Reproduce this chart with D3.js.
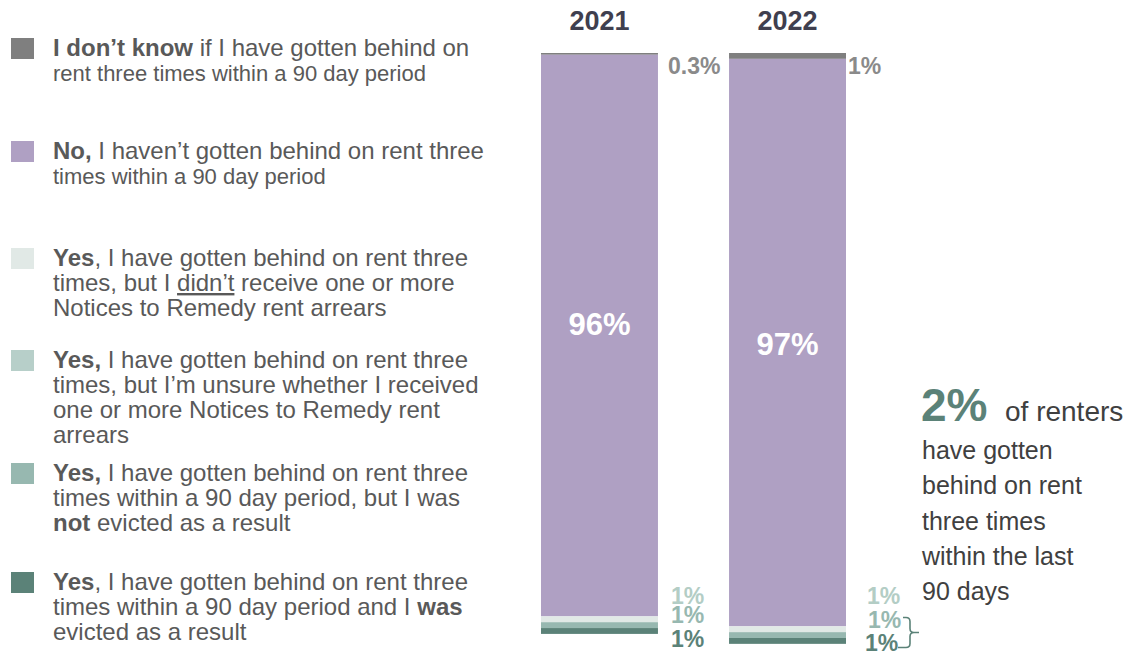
<!DOCTYPE html>
<html>
<head>
<meta charset="utf-8">
<script src="https://cdn.jsdelivr.net/npm/d3@7"></script>
<style>
  html, body { margin: 0; padding: 0; background: #ffffff; }
  svg { display: block; font-family: "Liberation Sans", Arial, sans-serif; }
</style>
</head>
<body>
<svg id="chart" width="1132" height="655"></svg>
<script>
// Survey years (one stacked bar each)
const years = ["2021", "2022"];

// Response categories, stacked top to bottom
const categories = ["dontKnow", "no", "yesNoNotice", "yesUnsure", "yesNotEvicted", "yesEvicted"];

// Share of renters (%) per category, in the same order as `categories`
const values2021 = [0.3, 96, 1, 0, 1, 1];
const values2022 = [1, 97, 1, 0, 1, 1];

// Text printed next to each segment
const labels2021 = ["0.3%", "96%", "1%", null, "1%", "1%"];
const labels2022 = ["1%", "97%", "1%", null, "1%", "1%"];

// Segment fills and label colours
const fills = ["#7f7f7f", "#afa0c3", "#e1e9e6", "#b7cfc9", "#97b8b0", "#5b8278"];
const labelColors = ["#8a8a8a", "#ffffff", "#b3cdc5", "#a9c6bd", "#97b8b0", "#5b8278"];

const seriesByYear = { "2021": values2021, "2022": values2022 };
const labelsByYear = { "2021": labels2021, "2022": labels2022 };

const svg = d3.select("#chart");

// ---- scales ----
const x = d3.scaleBand().domain(years).range([541, 846]).paddingInner(0.378).paddingOuter(0);
const y = d3.scaleLinear().domain([0, 100]).range([53, 638]);

// Build stacked segments (stacking downward from the top)
const segments = [];
years.forEach(yr => {
  let acc = 0;
  seriesByYear[yr].forEach((v, i) => {
    segments.push({ year: yr, key: categories[i], index: i, y0: acc, y1: acc + v, value: v, label: labelsByYear[yr][i] });
    acc += v;
  });
});

svg.append("g").selectAll("rect")
  .data(segments.filter(d => d.value > 0))
  .join("rect")
  .attr("x", d => x(d.year))
  .attr("width", x.bandwidth())
  .attr("y", d => y(d.y0))
  .attr("height", d => y(d.y1) - y(d.y0))
  .attr("fill", d => fills[d.index]);

// ---- year headers ----
svg.append("g").selectAll("text")
  .data(years)
  .join("text")
  .attr("x", d => x(d) + x.bandwidth() / 2)
  .attr("y", 30)
  .attr("text-anchor", "middle")
  .attr("font-size", 27)
  .attr("font-weight", "bold")
  .attr("fill", "#3f3f4f")
  .text(d => d);

// ---- segment labels ----
// Big label inside the "No" segment
const innerShift = { "2021": -12, "2022": 1 };
svg.append("g").selectAll("text")
  .data(segments.filter(d => d.key === "no"))
  .join("text")
  .attr("x", d => x(d.year) + x.bandwidth() / 2)
  .attr("y", d => (y(d.y0) + y(d.y1)) / 2 + innerShift[d.year] + 11)
  .attr("text-anchor", "middle")
  .attr("font-size", 31)
  .attr("font-weight", "bold")
  .attr("fill", labelColors[1])
  .text(d => d.label);

// Small labels placed beside the bar; offsets keep the stacked 1% labels readable
const sideLayout = {
  "2021": { dx: { dontKnow: 10, other: 13 }, topY: 66, bottom: { yesNoNotice: 596, yesNotEvicted: 615, yesEvicted: 639 } },
  "2022": { dx: { dontKnow: 2, other: 21 }, topY: 66, bottom: { yesNoNotice: 596, yesNotEvicted: 620, yesEvicted: 643 } }
};
const sideNudgeX = { yesNoNotice: 0, yesNotEvicted: 1, yesEvicted: -2 };

const sideLabels = segments.filter(d => d.label && d.key !== "no");
svg.append("g").selectAll("text")
  .data(sideLabels)
  .join("text")
  .attr("x", d => {
    const lay = sideLayout[d.year];
    const base = x(d.year) + x.bandwidth();
    if (d.key === "dontKnow") return base + lay.dx.dontKnow;
    return base + lay.dx.other + (d.year === "2022" ? sideNudgeX[d.key] : 0);
  })
  .attr("y", d => {
    const lay = sideLayout[d.year];
    const cy = d.key === "dontKnow" ? lay.topY : lay.bottom[d.key];
    return cy + 8;
  })
  .attr("font-size", 23)
  .attr("font-weight", "bold")
  .attr("fill", d => labelColors[d.index])
  .text(d => d.label);

// Brace grouping the two 2022 "Yes" labels
{
  const lay = sideLayout["2022"].bottom;
  const t = lay.yesNotEvicted - 2.5, b = lay.yesEvicted + 4.5, m = (t + b) / 2;
  const xl = 903, xv = 910, xt = 919, xb = 898;
  const p = `M${xl},${t} H${xv - 4} Q${xv},${t} ${xv},${t + 4} V${m - 4} Q${xv},${m} ${xv + 4},${m} H${xt}` +
            ` M${xv + 4},${m} Q${xv},${m} ${xv},${m + 4} V${b - 4} Q${xv},${b} ${xv - 4},${b} H${xb}`;
  svg.append("path").attr("d", p).attr("fill", "none").attr("stroke", "#5b8278").attr("stroke-width", 1.6);
}

// ---- legend ----
// Each line is a list of [text, style] runs; `small` marks lines set in a smaller size
const legendItems = [
  { top: 38, lines: [[["I don’t know", "b"], [" if I have gotten behind on", ""]], [["rent three times within a 90 day period", ""]]], small: [1] },
  { top: 141, lines: [[["No,", "b"], [" I haven’t gotten behind on rent three", ""]], [["times within a 90 day period", ""]]], small: [1] },
  { top: 248, lines: [[["Yes", "b"], [", I have gotten behind on rent three", ""]], [["times, but I ", ""], ["didn’t", "u"], [" receive one or more", ""]], [["Notices to Remedy rent arrears", ""]]] },
  { top: 350, lines: [[["Yes,", "b"], [" I have gotten behind on rent three", ""]], [["times, but I’m unsure whether I received", ""]], [["one or more Notices to Remedy rent", ""]], [["arrears", ""]]] },
  { top: 463, lines: [[["Yes,", "b"], [" I have gotten behind on rent three", ""]], [["times within a 90 day period, but I was", ""]], [["not", "b"], [" evicted as a result", ""]]] },
  { top: 572, lines: [[["Yes", "b"], [", I have gotten behind on rent three", ""]], [["times within a 90 day period and I ", ""], ["was", "b"]], [["evicted as a result", ""]]] }
];

const legend = svg.append("g");
legendItems.forEach((item, i) => {
  legend.append("rect")
    .attr("x", 11).attr("y", item.top)
    .attr("width", 23).attr("height", 21)
    .attr("fill", fills[i]);
  item.lines.forEach((line, li) => {
    const isSmall = item.small && item.small.includes(li);
    const t = legend.append("text")
      .attr("x", 53)
      .attr("y", item.top + 18 + li * 25)
      .attr("font-size", isSmall ? 22 : 24)
      .attr("fill", "#595959");
    line.forEach(([str, style]) => {
      const ts = t.append("tspan").text(str);
      if (style === "b") ts.attr("font-weight", "bold");
      if (style === "u") ts.attr("text-decoration", "underline");
    });
  });
});

// ---- callout ----
const callout = svg.append("g").attr("fill", "#404040");
callout.append("text")
  .attr("x", 921).attr("y", 421)
  .attr("font-size", 46).attr("font-weight", "bold").attr("fill", "#5b8278")
  .text("2%");
callout.append("text")
  .attr("x", 1005).attr("y", 421)
  .attr("font-size", 28)
  .text("of renters");
["have gotten", "behind on rent", "three times", "within the last", "90 days"].forEach((s, i) => {
  callout.append("text")
    .attr("x", 922)
    .attr("y", 459 + i * 35.3)
    .attr("font-size", 25)
    .text(s);
});
</script>
</body>
</html>
